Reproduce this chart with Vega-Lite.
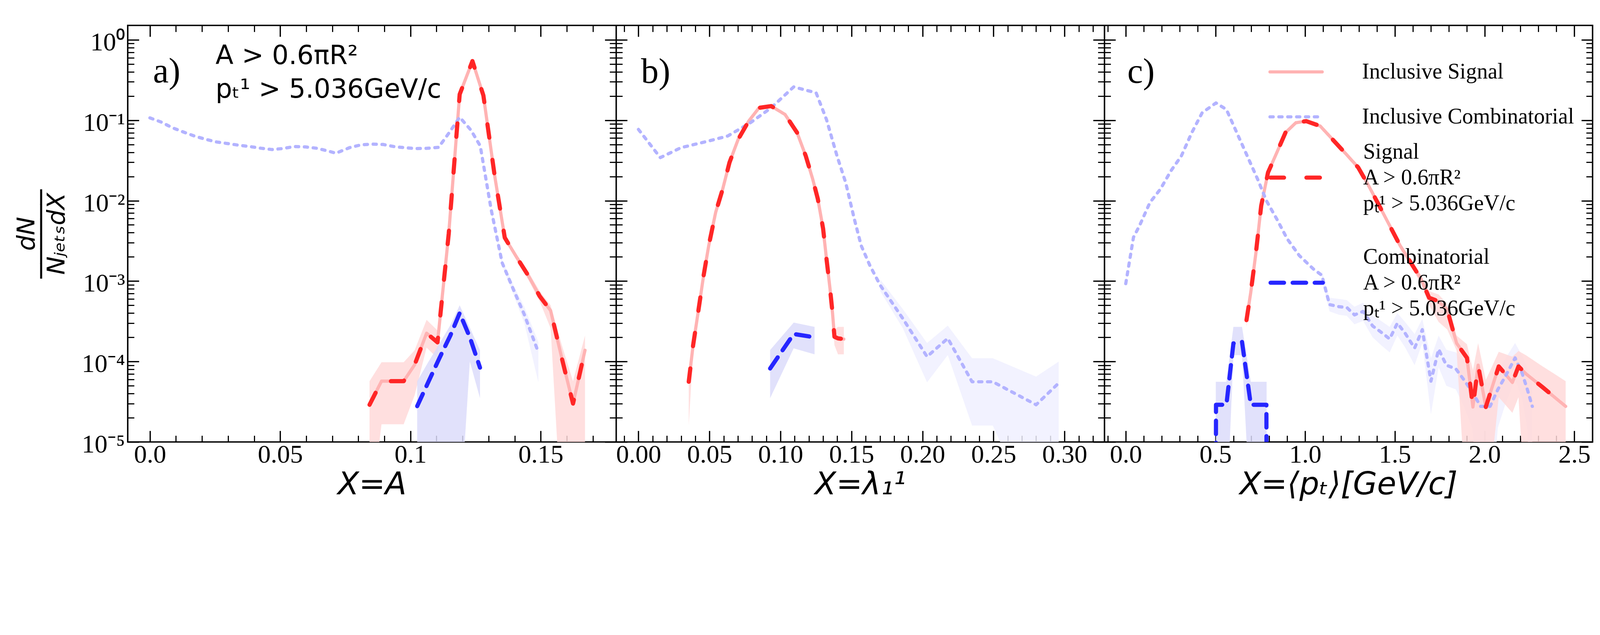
{
  "$schema": "https://vega.github.io/schema/vega-lite/v6.json",
  "width": 3750,
  "height": 1066,
  "autosize": {"type": "none"},
  "padding": {"left": 327, "top": 65, "right": 21, "bottom": 201},
  "background": "white",
  "datasets": {
    "curves": [
      {"p":"a","s":"Inclusive Signal","x":0.0843,"y":2.9e-5},
      {"p":"a","s":"Inclusive Signal","x":0.0889,"y":5.7e-5},
      {"p":"a","s":"Inclusive Signal","x":0.0974,"y":5.7e-5},
      {"p":"a","s":"Inclusive Signal","x":0.1016,"y":9.1e-5},
      {"p":"a","s":"Inclusive Signal","x":0.1062,"y":2.25e-4},
      {"p":"a","s":"Inclusive Signal","x":0.1104,"y":1.73e-4},
      {"p":"a","s":"Inclusive Signal","x":0.1147,"y":3.9e-3},
      {"p":"a","s":"Inclusive Signal","x":0.1189,"y":0.21},
      {"p":"a","s":"Inclusive Signal","x":0.1238,"y":0.544},
      {"p":"a","s":"Inclusive Signal","x":0.128,"y":0.203},
      {"p":"a","s":"Inclusive Signal","x":0.1323,"y":0.0207},
      {"p":"a","s":"Inclusive Signal","x":0.1362,"y":3.47e-3},
      {"p":"a","s":"Inclusive Signal","x":0.1408,"y":1.97e-3},
      {"p":"a","s":"Inclusive Signal","x":0.1453,"y":1.16e-3},
      {"p":"a","s":"Inclusive Signal","x":0.1496,"y":6.5e-4},
      {"p":"a","s":"Inclusive Signal","x":0.1538,"y":4.3e-4},
      {"p":"a","s":"Inclusive Signal","x":0.1581,"y":1.1e-4},
      {"p":"a","s":"Inclusive Signal","x":0.1624,"y":3.0e-5},
      {"p":"a","s":"Inclusive Signal","x":0.167,"y":1.38e-4},

      {"p":"a","s":"Inclusive Combinatorial","x":0.0,"y":0.107},
      {"p":"a","s":"Inclusive Combinatorial","x":0.0043,"y":0.095},
      {"p":"a","s":"Inclusive Combinatorial","x":0.0085,"y":0.081},
      {"p":"a","s":"Inclusive Combinatorial","x":0.0128,"y":0.0715},
      {"p":"a","s":"Inclusive Combinatorial","x":0.017,"y":0.0638},
      {"p":"a","s":"Inclusive Combinatorial","x":0.0213,"y":0.058},
      {"p":"a","s":"Inclusive Combinatorial","x":0.0256,"y":0.0537},
      {"p":"a","s":"Inclusive Combinatorial","x":0.0298,"y":0.0513},
      {"p":"a","s":"Inclusive Combinatorial","x":0.0341,"y":0.0489},
      {"p":"a","s":"Inclusive Combinatorial","x":0.0383,"y":0.0471},
      {"p":"a","s":"Inclusive Combinatorial","x":0.0426,"y":0.0449},
      {"p":"a","s":"Inclusive Combinatorial","x":0.0469,"y":0.0432},
      {"p":"a","s":"Inclusive Combinatorial","x":0.0511,"y":0.0445},
      {"p":"a","s":"Inclusive Combinatorial","x":0.0554,"y":0.0471},
      {"p":"a","s":"Inclusive Combinatorial","x":0.0596,"y":0.0466},
      {"p":"a","s":"Inclusive Combinatorial","x":0.0639,"y":0.0449},
      {"p":"a","s":"Inclusive Combinatorial","x":0.0682,"y":0.0416},
      {"p":"a","s":"Inclusive Combinatorial","x":0.0714,"y":0.0389},
      {"p":"a","s":"Inclusive Combinatorial","x":0.0767,"y":0.0457},
      {"p":"a","s":"Inclusive Combinatorial","x":0.0809,"y":0.0493},
      {"p":"a","s":"Inclusive Combinatorial","x":0.0852,"y":0.0505},
      {"p":"a","s":"Inclusive Combinatorial","x":0.0895,"y":0.05},
      {"p":"a","s":"Inclusive Combinatorial","x":0.0937,"y":0.047},
      {"p":"a","s":"Inclusive Combinatorial","x":0.098,"y":0.0455},
      {"p":"a","s":"Inclusive Combinatorial","x":0.1022,"y":0.0444},
      {"p":"a","s":"Inclusive Combinatorial","x":0.1065,"y":0.0448},
      {"p":"a","s":"Inclusive Combinatorial","x":0.1108,"y":0.046},
      {"p":"a","s":"Inclusive Combinatorial","x":0.115,"y":0.071},
      {"p":"a","s":"Inclusive Combinatorial","x":0.1189,"y":0.109},
      {"p":"a","s":"Inclusive Combinatorial","x":0.1232,"y":0.0755},
      {"p":"a","s":"Inclusive Combinatorial","x":0.1268,"y":0.0479},
      {"p":"a","s":"Inclusive Combinatorial","x":0.131,"y":0.0077,"lo":0.0072,"hi":0.0082},
      {"p":"a","s":"Inclusive Combinatorial","x":0.1352,"y":0.00169,"lo":0.00155,"hi":0.00185},
      {"p":"a","s":"Inclusive Combinatorial","x":0.1395,"y":0.00079,"lo":0.00068,"hi":0.0009},
      {"p":"a","s":"Inclusive Combinatorial","x":0.1437,"y":0.000384,"lo":0.0003,"hi":0.00048},
      {"p":"a","s":"Inclusive Combinatorial","x":0.1491,"y":0.00013,"lo":0.000055,"hi":0.000175},

      {"p":"a","s":"Signal","x":0.0843,"y":2.9e-5,"lo":1e-6,"hi":5.7e-5},
      {"p":"a","s":"Signal","x":0.0889,"y":5.7e-5,"lo":1.66e-5,"hi":9.8e-5},
      {"p":"a","s":"Signal","x":0.0974,"y":5.7e-5,"lo":1.66e-5,"hi":9.8e-5},
      {"p":"a","s":"Signal","x":0.1016,"y":9.1e-5,"lo":3.8e-5,"hi":1.38e-4},
      {"p":"a","s":"Signal","x":0.1062,"y":2.25e-4,"lo":1.49e-4,"hi":3.3e-4},
      {"p":"a","s":"Signal","x":0.1104,"y":1.73e-4,"lo":1.1e-4,"hi":2.43e-4},
      {"p":"a","s":"Signal","x":0.1147,"y":3.9e-3,"lo":3.6e-3,"hi":4.2e-3},
      {"p":"a","s":"Signal","x":0.1189,"y":0.21,"lo":0.2,"hi":0.22},
      {"p":"a","s":"Signal","x":0.1238,"y":0.544,"lo":0.53,"hi":0.56},
      {"p":"a","s":"Signal","x":0.128,"y":0.203,"lo":0.195,"hi":0.21},
      {"p":"a","s":"Signal","x":0.1323,"y":0.0207,"lo":0.0195,"hi":0.022},
      {"p":"a","s":"Signal","x":0.1362,"y":3.47e-3,"lo":3.25e-3,"hi":3.7e-3},
      {"p":"a","s":"Signal","x":0.1408,"y":1.97e-3,"lo":1.8e-3,"hi":2.15e-3},
      {"p":"a","s":"Signal","x":0.1453,"y":1.16e-3,"lo":1.03e-3,"hi":1.3e-3},
      {"p":"a","s":"Signal","x":0.1496,"y":6.5e-4,"lo":5.6e-4,"hi":7.5e-4},
      {"p":"a","s":"Signal","x":0.1538,"y":4.3e-4,"lo":2.6e-4,"hi":5.0e-4},
      {"p":"a","s":"Signal","x":0.1581,"y":1.1e-4,"lo":1e-6,"hi":1.6e-4},
      {"p":"a","s":"Signal","x":0.1624,"y":3.0e-5,"lo":1e-6,"hi":5.7e-5},
      {"p":"a","s":"Signal","x":0.167,"y":1.38e-4,"lo":1e-6,"hi":2.1e-4},

      {"p":"a","s":"Combinatorial","x":0.1026,"y":2.79e-5,"lo":1e-6,"hi":5.7e-5},
      {"p":"a","s":"Combinatorial","x":0.1068,"y":5.5e-5,"lo":1e-6,"hi":9.8e-5},
      {"p":"a","s":"Combinatorial","x":0.1111,"y":1.1e-4,"lo":1e-6,"hi":1.66e-4},
      {"p":"a","s":"Combinatorial","x":0.1153,"y":2.1e-4,"lo":1e-6,"hi":2.83e-4},
      {"p":"a","s":"Combinatorial","x":0.1189,"y":4.0e-4,"lo":1e-6,"hi":5.0e-4},
      {"p":"a","s":"Combinatorial","x":0.1228,"y":2.0e-4,"lo":1.0e-4,"hi":2.63e-4},
      {"p":"a","s":"Combinatorial","x":0.1267,"y":8.4e-5,"lo":3.5e-5,"hi":1.38e-4},

      {"p":"b","s":"Inclusive Signal","x":0.0354,"y":5.6e-5},
      {"p":"b","s":"Inclusive Signal","x":0.0385,"y":1.6e-4},
      {"p":"b","s":"Inclusive Signal","x":0.0422,"y":4.3e-4},
      {"p":"b","s":"Inclusive Signal","x":0.0459,"y":1.18e-3},
      {"p":"b","s":"Inclusive Signal","x":0.0495,"y":2.77e-3},
      {"p":"b","s":"Inclusive Signal","x":0.0544,"y":7.2e-3},
      {"p":"b","s":"Inclusive Signal","x":0.0593,"y":0.0139},
      {"p":"b","s":"Inclusive Signal","x":0.0641,"y":0.0298},
      {"p":"b","s":"Inclusive Signal","x":0.0702,"y":0.0578},
      {"p":"b","s":"Inclusive Signal","x":0.0776,"y":0.0975},
      {"p":"b","s":"Inclusive Signal","x":0.0849,"y":0.1426},
      {"p":"b","s":"Inclusive Signal","x":0.0934,"y":0.15},
      {"p":"b","s":"Inclusive Signal","x":0.1032,"y":0.118},
      {"p":"b","s":"Inclusive Signal","x":0.1117,"y":0.07},
      {"p":"b","s":"Inclusive Signal","x":0.1178,"y":0.036},
      {"p":"b","s":"Inclusive Signal","x":0.1227,"y":0.0185},
      {"p":"b","s":"Inclusive Signal","x":0.1263,"y":0.0105},
      {"p":"b","s":"Inclusive Signal","x":0.13,"y":0.0045},
      {"p":"b","s":"Inclusive Signal","x":0.1324,"y":0.00189},
      {"p":"b","s":"Inclusive Signal","x":0.1349,"y":0.0008},
      {"p":"b","s":"Inclusive Signal","x":0.1366,"y":0.00041},
      {"p":"b","s":"Inclusive Signal","x":0.138,"y":0.000203},
      {"p":"b","s":"Inclusive Signal","x":0.1405,"y":0.000194},
      {"p":"b","s":"Inclusive Signal","x":0.1446,"y":0.00019},

      {"p":"b","s":"Inclusive Combinatorial","x":0.0,"y":0.0769},
      {"p":"b","s":"Inclusive Combinatorial","x":0.0154,"y":0.0343},
      {"p":"b","s":"Inclusive Combinatorial","x":0.03,"y":0.0456},
      {"p":"b","s":"Inclusive Combinatorial","x":0.0495,"y":0.0552},
      {"p":"b","s":"Inclusive Combinatorial","x":0.0629,"y":0.0637},
      {"p":"b","s":"Inclusive Combinatorial","x":0.0788,"y":0.0931},
      {"p":"b","s":"Inclusive Combinatorial","x":0.0934,"y":0.1426},
      {"p":"b","s":"Inclusive Combinatorial","x":0.1093,"y":0.2596},
      {"p":"b","s":"Inclusive Combinatorial","x":0.1251,"y":0.219},
      {"p":"b","s":"Inclusive Combinatorial","x":0.1324,"y":0.102},
      {"p":"b","s":"Inclusive Combinatorial","x":0.1398,"y":0.036},
      {"p":"b","s":"Inclusive Combinatorial","x":0.1459,"y":0.0168},
      {"p":"b","s":"Inclusive Combinatorial","x":0.152,"y":0.0059},
      {"p":"b","s":"Inclusive Combinatorial","x":0.1568,"y":0.00277},
      {"p":"b","s":"Inclusive Combinatorial","x":0.1629,"y":0.00157},
      {"p":"b","s":"Inclusive Combinatorial","x":0.1702,"y":0.00089,"lo":0.00075,"hi":0.00105},
      {"p":"b","s":"Inclusive Combinatorial","x":0.1861,"y":0.000343,"lo":0.00026,"hi":0.00045},
      {"p":"b","s":"Inclusive Combinatorial","x":0.2032,"y":0.000115,"lo":0.000055,"hi":0.00017},
      {"p":"b","s":"Inclusive Combinatorial","x":0.2178,"y":0.000194,"lo":0.00012,"hi":0.00028},
      {"p":"b","s":"Inclusive Combinatorial","x":0.2349,"y":0.000056,"lo":0.000016,"hi":0.00011},
      {"p":"b","s":"Inclusive Combinatorial","x":0.2495,"y":0.000056,"lo":0.000016,"hi":0.00011},
      {"p":"b","s":"Inclusive Combinatorial","x":0.28,"y":0.000029,"lo":1e-6,"hi":0.000065},
      {"p":"b","s":"Inclusive Combinatorial","x":0.2959,"y":0.000054,"lo":1e-6,"hi":0.0001},

      {"p":"b","s":"Signal","x":0.0354,"y":5.6e-5,"lo":1.6e-5,"hi":7.5e-5},
      {"p":"b","s":"Signal","x":0.0385,"y":1.6e-4,"lo":1.3e-4,"hi":1.9e-4},
      {"p":"b","s":"Signal","x":0.0422,"y":4.3e-4,"lo":3.9e-4,"hi":4.7e-4},
      {"p":"b","s":"Signal","x":0.0459,"y":1.18e-3,"lo":1.1e-3,"hi":1.26e-3},
      {"p":"b","s":"Signal","x":0.0495,"y":2.77e-3,"lo":2.6e-3,"hi":2.95e-3},
      {"p":"b","s":"Signal","x":0.0544,"y":7.2e-3,"lo":6.8e-3,"hi":7.6e-3},
      {"p":"b","s":"Signal","x":0.0593,"y":0.0139,"lo":0.0132,"hi":0.0146},
      {"p":"b","s":"Signal","x":0.0641,"y":0.0298,"lo":0.0285,"hi":0.031},
      {"p":"b","s":"Signal","x":0.0702,"y":0.0578,"lo":0.0555,"hi":0.06},
      {"p":"b","s":"Signal","x":0.0776,"y":0.0975,"lo":0.094,"hi":0.101},
      {"p":"b","s":"Signal","x":0.0849,"y":0.1426,"lo":0.138,"hi":0.147},
      {"p":"b","s":"Signal","x":0.0934,"y":0.15,"lo":0.145,"hi":0.155},
      {"p":"b","s":"Signal","x":0.1032,"y":0.118,"lo":0.114,"hi":0.122},
      {"p":"b","s":"Signal","x":0.1117,"y":0.07,"lo":0.067,"hi":0.073},
      {"p":"b","s":"Signal","x":0.1178,"y":0.036,"lo":0.0345,"hi":0.0375},
      {"p":"b","s":"Signal","x":0.1227,"y":0.0185,"lo":0.0176,"hi":0.0194},
      {"p":"b","s":"Signal","x":0.1263,"y":0.0105,"lo":0.01,"hi":0.011},
      {"p":"b","s":"Signal","x":0.13,"y":0.0045,"lo":0.0043,"hi":0.0047},
      {"p":"b","s":"Signal","x":0.1324,"y":0.00189,"lo":0.0018,"hi":0.002},
      {"p":"b","s":"Signal","x":0.1349,"y":0.0008,"lo":0.00075,"hi":0.00085},
      {"p":"b","s":"Signal","x":0.1366,"y":0.00041,"lo":0.00037,"hi":0.00045},
      {"p":"b","s":"Signal","x":0.138,"y":0.000203,"lo":0.00016,"hi":0.00025},
      {"p":"b","s":"Signal","x":0.1405,"y":0.000194,"lo":0.000123,"hi":0.00027},
      {"p":"b","s":"Signal","x":0.1446,"y":0.00019,"lo":0.000123,"hi":0.00027},

      {"p":"b","s":"Combinatorial","x":0.0927,"y":8.2e-5,"lo":3.5e-5,"hi":1.39e-4},
      {"p":"b","s":"Combinatorial","x":0.1093,"y":2.2e-4,"lo":1.46e-4,"hi":3.05e-4},
      {"p":"b","s":"Combinatorial","x":0.124,"y":2.0e-4,"lo":1.23e-4,"hi":2.7e-4},

      {"p":"c","s":"Inclusive Signal","x":0.673,"y":3.27e-4},
      {"p":"c","s":"Inclusive Signal","x":0.697,"y":7.3e-4},
      {"p":"c","s":"Inclusive Signal","x":0.726,"y":2.29e-3},
      {"p":"c","s":"Inclusive Signal","x":0.755,"y":8.65e-3},
      {"p":"c","s":"Inclusive Signal","x":0.793,"y":0.0224},
      {"p":"c","s":"Inclusive Signal","x":0.842,"y":0.0396},
      {"p":"c","s":"Inclusive Signal","x":0.89,"y":0.07},
      {"p":"c","s":"Inclusive Signal","x":0.948,"y":0.093},
      {"p":"c","s":"Inclusive Signal","x":1.006,"y":0.0975},
      {"p":"c","s":"Inclusive Signal","x":1.084,"y":0.0846},
      {"p":"c","s":"Inclusive Signal","x":1.161,"y":0.0552},
      {"p":"c","s":"Inclusive Signal","x":1.229,"y":0.0378},
      {"p":"c","s":"Inclusive Signal","x":1.296,"y":0.0258},
      {"p":"c","s":"Inclusive Signal","x":1.354,"y":0.0153},
      {"p":"c","s":"Inclusive Signal","x":1.413,"y":8.65e-3},
      {"p":"c","s":"Inclusive Signal","x":1.471,"y":4.9e-3},
      {"p":"c","s":"Inclusive Signal","x":1.529,"y":2.77e-3},
      {"p":"c","s":"Inclusive Signal","x":1.587,"y":1.72e-3},
      {"p":"c","s":"Inclusive Signal","x":1.645,"y":1.07e-3},
      {"p":"c","s":"Inclusive Signal","x":1.691,"y":6.2e-4},
      {"p":"c","s":"Inclusive Signal","x":1.744,"y":5.6e-4},
      {"p":"c","s":"Inclusive Signal","x":1.792,"y":4.4e-4},
      {"p":"c","s":"Inclusive Signal","x":1.844,"y":1.69e-4},
      {"p":"c","s":"Inclusive Signal","x":1.902,"y":1.11e-4},
      {"p":"c","s":"Inclusive Signal","x":1.935,"y":2.72e-5},
      {"p":"c","s":"Inclusive Signal","x":1.964,"y":9.0e-5},
      {"p":"c","s":"Inclusive Signal","x":2.007,"y":2.72e-5},
      {"p":"c","s":"Inclusive Signal","x":2.079,"y":8.7e-5},
      {"p":"c","s":"Inclusive Signal","x":2.155,"y":5.5e-5},
      {"p":"c","s":"Inclusive Signal","x":2.189,"y":8.7e-5},
      {"p":"c","s":"Inclusive Signal","x":2.232,"y":7.0e-5},
      {"p":"c","s":"Inclusive Signal","x":2.323,"y":4.8e-5},
      {"p":"c","s":"Inclusive Signal","x":2.39,"y":3.6e-5},
      {"p":"c","s":"Inclusive Signal","x":2.452,"y":2.77e-5},

      {"p":"c","s":"Inclusive Combinatorial","x":0.0,"y":0.00093},
      {"p":"c","s":"Inclusive Combinatorial","x":0.043,"y":0.0035},
      {"p":"c","s":"Inclusive Combinatorial","x":0.077,"y":0.0049},
      {"p":"c","s":"Inclusive Combinatorial","x":0.135,"y":0.0095},
      {"p":"c","s":"Inclusive Combinatorial","x":0.193,"y":0.0139},
      {"p":"c","s":"Inclusive Combinatorial","x":0.252,"y":0.0235},
      {"p":"c","s":"Inclusive Combinatorial","x":0.31,"y":0.036},
      {"p":"c","s":"Inclusive Combinatorial","x":0.368,"y":0.07},
      {"p":"c","s":"Inclusive Combinatorial","x":0.426,"y":0.124},
      {"p":"c","s":"Inclusive Combinatorial","x":0.503,"y":0.164},
      {"p":"c","s":"Inclusive Combinatorial","x":0.561,"y":0.136},
      {"p":"c","s":"Inclusive Combinatorial","x":0.619,"y":0.07},
      {"p":"c","s":"Inclusive Combinatorial","x":0.677,"y":0.036},
      {"p":"c","s":"Inclusive Combinatorial","x":0.735,"y":0.0185},
      {"p":"c","s":"Inclusive Combinatorial","x":0.784,"y":0.00998},
      {"p":"c","s":"Inclusive Combinatorial","x":0.842,"y":0.0059},
      {"p":"c","s":"Inclusive Combinatorial","x":0.9,"y":0.00335},
      {"p":"c","s":"Inclusive Combinatorial","x":0.967,"y":0.00208},
      {"p":"c","s":"Inclusive Combinatorial","x":1.045,"y":0.00142},
      {"p":"c","s":"Inclusive Combinatorial","x":1.093,"y":0.00118,"lo":0.001,"hi":0.00135},
      {"p":"c","s":"Inclusive Combinatorial","x":1.136,"y":0.00051,"lo":0.00042,"hi":0.00062},
      {"p":"c","s":"Inclusive Combinatorial","x":1.19,"y":0.00048,"lo":0.00038,"hi":0.0006},
      {"p":"c","s":"Inclusive Combinatorial","x":1.232,"y":0.00047,"lo":0.00037,"hi":0.00058},
      {"p":"c","s":"Inclusive Combinatorial","x":1.275,"y":0.00038,"lo":0.00029,"hi":0.00048},
      {"p":"c","s":"Inclusive Combinatorial","x":1.323,"y":0.00042,"lo":0.00032,"hi":0.00054},
      {"p":"c","s":"Inclusive Combinatorial","x":1.376,"y":0.000277,"lo":0.0002,"hi":0.00037},
      {"p":"c","s":"Inclusive Combinatorial","x":1.423,"y":0.000232,"lo":0.00016,"hi":0.00032},
      {"p":"c","s":"Inclusive Combinatorial","x":1.471,"y":0.000191,"lo":0.00013,"hi":0.00027},
      {"p":"c","s":"Inclusive Combinatorial","x":1.514,"y":0.0003,"lo":0.00021,"hi":0.0004},
      {"p":"c","s":"Inclusive Combinatorial","x":1.557,"y":0.000225,"lo":0.00015,"hi":0.00031},
      {"p":"c","s":"Inclusive Combinatorial","x":1.61,"y":0.000147,"lo":0.00009,"hi":0.00022},
      {"p":"c","s":"Inclusive Combinatorial","x":1.653,"y":0.000249,"lo":0.00017,"hi":0.00034},
      {"p":"c","s":"Inclusive Combinatorial","x":1.701,"y":0.000057,"lo":0.000022,"hi":0.00011},
      {"p":"c","s":"Inclusive Combinatorial","x":1.744,"y":0.000142,"lo":0.000085,"hi":0.00021},
      {"p":"c","s":"Inclusive Combinatorial","x":1.787,"y":0.00009,"lo":0.00005,"hi":0.00014},
      {"p":"c","s":"Inclusive Combinatorial","x":1.84,"y":0.000081,"lo":0.000045,"hi":0.00013},
      {"p":"c","s":"Inclusive Combinatorial","x":1.883,"y":0.00006,"lo":0.000028,"hi":0.0001},
      {"p":"c","s":"Inclusive Combinatorial","x":1.931,"y":0.000042,"lo":0.000015,"hi":0.000075},
      {"p":"c","s":"Inclusive Combinatorial","x":1.978,"y":0.0000277,"lo":1e-6,"hi":0.000055},
      {"p":"c","s":"Inclusive Combinatorial","x":2.031,"y":0.0000277,"lo":1e-6,"hi":0.000055},
      {"p":"c","s":"Inclusive Combinatorial","x":2.074,"y":0.000045,"lo":0.000015,"hi":0.00008},
      {"p":"c","s":"Inclusive Combinatorial","x":2.117,"y":0.000066,"lo":0.00003,"hi":0.00011},
      {"p":"c","s":"Inclusive Combinatorial","x":2.17,"y":0.000111,"lo":0.00006,"hi":0.00017},
      {"p":"c","s":"Inclusive Combinatorial","x":2.208,"y":0.000073,"lo":0.000035,"hi":0.00012},
      {"p":"c","s":"Inclusive Combinatorial","x":2.237,"y":0.000046,"lo":0.000015,"hi":0.000085},
      {"p":"c","s":"Inclusive Combinatorial","x":2.266,"y":0.0000277,"lo":1e-6,"hi":0.000055},

      {"p":"c","s":"Signal","x":0.673,"y":3.27e-4,"lo":2.7e-4,"hi":3.9e-4},
      {"p":"c","s":"Signal","x":0.697,"y":7.3e-4,"lo":6.6e-4,"hi":8e-4},
      {"p":"c","s":"Signal","x":0.726,"y":2.29e-3,"lo":2.15e-3,"hi":2.45e-3},
      {"p":"c","s":"Signal","x":0.755,"y":8.65e-3,"lo":8.2e-3,"hi":9.1e-3},
      {"p":"c","s":"Signal","x":0.793,"y":0.0224,"lo":0.0214,"hi":0.0234},
      {"p":"c","s":"Signal","x":0.842,"y":0.0396,"lo":0.038,"hi":0.0412},
      {"p":"c","s":"Signal","x":0.89,"y":0.07,"lo":0.067,"hi":0.073},
      {"p":"c","s":"Signal","x":0.948,"y":0.093,"lo":0.09,"hi":0.096},
      {"p":"c","s":"Signal","x":1.006,"y":0.0975,"lo":0.094,"hi":0.101},
      {"p":"c","s":"Signal","x":1.084,"y":0.0846,"lo":0.082,"hi":0.087},
      {"p":"c","s":"Signal","x":1.161,"y":0.0552,"lo":0.053,"hi":0.0575},
      {"p":"c","s":"Signal","x":1.229,"y":0.0378,"lo":0.0362,"hi":0.0394},
      {"p":"c","s":"Signal","x":1.296,"y":0.0258,"lo":0.0246,"hi":0.027},
      {"p":"c","s":"Signal","x":1.354,"y":0.0153,"lo":0.0145,"hi":0.0161},
      {"p":"c","s":"Signal","x":1.413,"y":8.65e-3,"lo":8.1e-3,"hi":9.2e-3},
      {"p":"c","s":"Signal","x":1.471,"y":4.9e-3,"lo":4.55e-3,"hi":5.25e-3},
      {"p":"c","s":"Signal","x":1.529,"y":2.77e-3,"lo":2.55e-3,"hi":3.0e-3},
      {"p":"c","s":"Signal","x":1.587,"y":1.72e-3,"lo":1.55e-3,"hi":1.9e-3},
      {"p":"c","s":"Signal","x":1.645,"y":1.07e-3,"lo":9.4e-4,"hi":1.2e-3},
      {"p":"c","s":"Signal","x":1.691,"y":6.2e-4,"lo":5.0e-4,"hi":7.5e-4},
      {"p":"c","s":"Signal","x":1.744,"y":5.6e-4,"lo":3.1e-4,"hi":6.8e-4},
      {"p":"c","s":"Signal","x":1.792,"y":4.4e-4,"lo":2.5e-4,"hi":5.2e-4},
      {"p":"c","s":"Signal","x":1.844,"y":1.69e-4,"lo":1.37e-4,"hi":2.1e-4},
      {"p":"c","s":"Signal","x":1.902,"y":1.11e-4,"lo":1e-6,"hi":1.64e-4},
      {"p":"c","s":"Signal","x":1.935,"y":2.72e-5,"lo":1e-6,"hi":7.8e-5},
      {"p":"c","s":"Signal","x":1.964,"y":9.0e-5,"lo":1e-6,"hi":1.69e-4},
      {"p":"c","s":"Signal","x":2.007,"y":2.72e-5,"lo":1e-6,"hi":5.9e-5},
      {"p":"c","s":"Signal","x":2.079,"y":8.7e-5,"lo":3.6e-5,"hi":1.32e-4},
      {"p":"c","s":"Signal","x":2.155,"y":5.5e-5,"lo":2.3e-5,"hi":1.15e-4},
      {"p":"c","s":"Signal","x":2.189,"y":8.7e-5,"lo":3.6e-5,"hi":1.35e-4},
      {"p":"c","s":"Signal","x":2.232,"y":7.0e-5,"lo":1e-6,"hi":1.19e-4},
      {"p":"c","s":"Signal","x":2.323,"y":4.8e-5,"lo":1e-6,"hi":8.7e-5},
      {"p":"c","s":"Signal","x":2.39,"y":3.6e-5,"lo":1e-6,"hi":7.0e-5},
      {"p":"c","s":"Signal","x":2.452,"y":2.77e-5,"lo":1e-6,"hi":5.7e-5},

      {"p":"c","s":"Combinatorial","x":0.502,"y":1e-6,"lo":1e-6,"hi":5.6e-5},
      {"p":"c","s":"Combinatorial","x":0.503,"y":2.9e-5,"lo":1e-6,"hi":5.6e-5},
      {"p":"c","s":"Combinatorial","x":0.561,"y":2.9e-5,"lo":1e-6,"hi":5.6e-5},
      {"p":"c","s":"Combinatorial","x":0.6,"y":1.68e-4,"lo":1.2e-4,"hi":2.7e-4},
      {"p":"c","s":"Combinatorial","x":0.648,"y":1.76e-4,"lo":1.2e-4,"hi":2.7e-4},
      {"p":"c","s":"Combinatorial","x":0.697,"y":2.9e-5,"lo":1e-6,"hi":5.6e-5},
      {"p":"c","s":"Combinatorial","x":0.784,"y":2.9e-5,"lo":1e-6,"hi":5.6e-5},
      {"p":"c","s":"Combinatorial","x":0.785,"y":1e-6,"lo":1e-6,"hi":5.6e-5}
    ]
  },
  "layer": [
    {
      "resolve": {"scale": {"stroke": "independent", "strokeDash": "independent"}, "axis": {"x": "independent", "y": "independent"}},
      "layer": [
        {
          "data": {"name": "curves"},
          "transform": [{"filter": "datum.p == 'a' && datum.hi != null"}],
          "mark": {"type": "area", "clip": true, "opacity": 0.85},
          "encoding": {
            "x": {"field": "x", "type": "quantitative",
              "scale": {"domain": [-0.0085, 0.1789], "range": [0, 1250], "nice": false, "zero": false},
              "axis": {"orient": "bottom", "values": [0, 0.05, 0.1, 0.15], "labelExpr": "['0.0','0.05','0.1','0.15'][round(datum.value/0.05)]",
                "tickSize": -28.7, "tickWidth": 3.3, "labelPadding": 29,
                "title": "X=A", "titleFontSize": 80, "titleFontStyle": "italic", "titlePadding": 5}},
            "y": {"field": "hi", "type": "quantitative",
              "scale": {"type": "log", "domain": [0.00001, 1.51], "nice": false},
              "axis": {"orient": "left", "values": [0.00001, 0.0001, 0.001, 0.01, 0.1, 1],
                "labelExpr": "['10⁰','10⁻¹','10⁻²','10⁻³','10⁻⁴','10⁻⁵'][round(-log(datum.value)/LN10)]",
                "tickSize": -28.7, "tickWidth": 3.3, "labelPadding": 36, "labelOffset": 6.5,
                "title": ["dN", "──────", "NⱼₑₜₛdX"], "titleFontSize": 63, "titleLineHeight": 38.6, "titleFontStyle": "italic", "titlePadding": 30.7}},
            "y2": {"field": "lo"},
            "fill": {"field": "s", "type": "nominal",
              "scale": {"domain": ["Inclusive Combinatorial", "Combinatorial", "Signal"], "range": ["#f0f0ff", "#dcdcfa", "#ffd9d9"]},
              "legend": null}
          }
        },
        {
          "data": {"name": "curves"},
          "transform": [{"filter": "datum.p == 'a' && (datum.s == 'Inclusive Signal' || datum.s == 'Inclusive Combinatorial')"}],
          "mark": {"type": "line", "clip": true, "strokeWidth": 8.2, "strokeCap": "round", "strokeJoin": "round"},
          "encoding": {
            "x": {"field": "x", "type": "quantitative",
              "axis": {"orient": "bottom", "values": [0.01, 0.02, 0.03, 0.04, 0.06, 0.07, 0.08, 0.09, 0.11, 0.12, 0.13, 0.14, 0.16, 0.17],
                "tickSize": -16.4, "tickWidth": 2.9, "labels": false, "title": null}},
            "y": {"field": "y", "type": "quantitative",
              "axis": {"orient": "left", "values": [0.00002,0.00003,0.00004,0.00005,0.00006,0.00007,0.00008,0.00009,0.0002,0.0003,0.0004,0.0005,0.0006,0.0007,0.0008,0.0009,0.002,0.003,0.004,0.005,0.006,0.007,0.008,0.009,0.02,0.03,0.04,0.05,0.06,0.07,0.08,0.09,0.2,0.3,0.4,0.5,0.6,0.7,0.8,0.9],
                "tickSize": -16.4, "tickWidth": 2.9, "labels": false, "title": null}},
            "stroke": {"field": "s", "type": "nominal",
              "scale": {"domain": ["Inclusive Signal", "Inclusive Combinatorial"], "range": ["#ffb3b3", "#b3b3ff"]}, "legend": null},
            "strokeDash": {"field": "s", "type": "nominal",
              "scale": {"domain": ["Inclusive Signal", "Inclusive Combinatorial"], "range": [[1, 0], [8.2, 14.5]]}, "legend": null}
          }
        },
        {
          "data": {"name": "curves"},
          "transform": [{"filter": "datum.p == 'a' && (datum.s == 'Signal' || datum.s == 'Combinatorial')"}],
          "mark": {"type": "line", "clip": true, "strokeWidth": 10.7, "strokeCap": "round", "strokeJoin": "round"},
          "encoding": {
            "x": {"field": "x", "type": "quantitative",
              "axis": {"orient": "top", "values": [0, 0.05, 0.1, 0.15], "tickSize": -28.7, "tickWidth": 3.3, "labels": false, "title": null}},
            "y": {"field": "y", "type": "quantitative",
              "axis": {"orient": "left", "offset": -1250, "values": [0.00001, 0.0001, 0.001, 0.01, 0.1, 1], "tickSize": 28.7, "tickWidth": 3.3, "labels": false, "title": null}},
            "stroke": {"field": "s", "type": "nominal",
              "scale": {"domain": ["Signal", "Combinatorial"], "range": ["#ff2626", "#2626ff"]}, "legend": null},
            "strokeDash": {"field": "s", "type": "nominal",
              "scale": {"domain": ["Signal", "Combinatorial"], "range": [[34.4, 57.4], [34.4, 22.1]]}, "legend": null}
          }
        },
        {
          "data": {"values": [{}]},
          "mark": {"type": "text", "text": "a)", "font": "Liberation Serif", "fontSize": 90, "align": "left", "baseline": "alphabetic", "color": "#000"},
          "encoding": {
            "x": {"datum": 0.0012, "type": "quantitative",
              "axis": {"orient": "top", "values": [0.01, 0.02, 0.03, 0.04, 0.06, 0.07, 0.08, 0.09, 0.11, 0.12, 0.13, 0.14, 0.16, 0.17],
                "tickSize": -16.4, "tickWidth": 2.9, "labels": false, "title": null}},
            "y": {"datum": 0.296, "type": "quantitative",
              "axis": {"orient": "left", "offset": -1250, "values": [0.00002,0.00003,0.00004,0.00005,0.00006,0.00007,0.00008,0.00009,0.0002,0.0003,0.0004,0.0005,0.0006,0.0007,0.0008,0.0009,0.002,0.003,0.004,0.005,0.006,0.007,0.008,0.009,0.02,0.03,0.04,0.05,0.06,0.07,0.08,0.09,0.2,0.3,0.4,0.5,0.6,0.7,0.8,0.9],
                "tickSize": 16.4, "tickWidth": 2.9, "labels": false, "title": null}}
          }
        },
        {
          "data": {"values": [{}]},
          "mark": {"type": "text", "text": ["A > 0.6πR²", "pₜ¹ > 5.036GeV/c"], "font": "DejaVu Sans", "fontSize": 67, "lineHeight": 86, "align": "left", "baseline": "alphabetic", "color": "#000"},
          "encoding": {
            "x": {"datum": 0.0252, "type": "quantitative", "axis": null},
            "y": {"datum": 0.499, "type": "quantitative", "axis": null}
          }
        }
      ]
    },
    {
      "resolve": {"scale": {"stroke": "independent", "strokeDash": "independent"}, "axis": {"x": "independent", "y": "independent"}},
      "layer": [
        {
          "data": {"name": "curves"},
          "transform": [{"filter": "datum.p == 'b' && datum.hi != null"}],
          "mark": {"type": "area", "clip": true, "opacity": 0.85},
          "encoding": {
            "x": {"field": "x", "type": "quantitative",
              "scale": {"domain": [-0.0158, 0.328], "range": [1250, 2500], "nice": false, "zero": false},
              "axis": {"orient": "bottom", "values": [0, 0.05, 0.1, 0.15, 0.2, 0.25, 0.3], "format": ".2f",
                "tickSize": -28.7, "tickWidth": 3.3, "labelPadding": 29,
                "title": "X=λ₁¹", "titleFontSize": 80, "titleFontStyle": "italic", "titlePadding": 5}},
            "y": {"field": "hi", "type": "quantitative",
              "axis": {"orient": "left", "offset": -1250, "values": [0.00001, 0.0001, 0.001, 0.01, 0.1, 1],
                "tickSize": -28.7, "tickWidth": 3.3, "labels": false, "title": null,
                "domain": true, "domainColor": "#000", "domainWidth": 3.7}},
            "y2": {"field": "lo"},
            "fill": {"field": "s", "type": "nominal",
              "scale": {"domain": ["Inclusive Combinatorial", "Combinatorial", "Signal"], "range": ["#f0f0ff", "#dcdcfa", "#ffd9d9"]},
              "legend": null}
          }
        },
        {
          "data": {"name": "curves"},
          "transform": [{"filter": "datum.p == 'b' && (datum.s == 'Inclusive Signal' || datum.s == 'Inclusive Combinatorial')"}],
          "mark": {"type": "line", "clip": true, "strokeWidth": 8.2, "strokeCap": "round", "strokeJoin": "round"},
          "encoding": {
            "x": {"field": "x", "type": "quantitative",
              "axis": {"orient": "bottom", "values": [-0.01, 0.01, 0.02, 0.03, 0.04, 0.06, 0.07, 0.08, 0.09, 0.11, 0.12, 0.13, 0.14, 0.16, 0.17, 0.18, 0.19, 0.21, 0.22, 0.23, 0.24, 0.26, 0.27, 0.28, 0.29, 0.31, 0.32],
                "tickSize": -16.4, "tickWidth": 2.9, "labels": false, "title": null}},
            "y": {"field": "y", "type": "quantitative",
              "axis": {"orient": "left", "offset": -1250, "values": [0.00002,0.00003,0.00004,0.00005,0.00006,0.00007,0.00008,0.00009,0.0002,0.0003,0.0004,0.0005,0.0006,0.0007,0.0008,0.0009,0.002,0.003,0.004,0.005,0.006,0.007,0.008,0.009,0.02,0.03,0.04,0.05,0.06,0.07,0.08,0.09,0.2,0.3,0.4,0.5,0.6,0.7,0.8,0.9],
                "tickSize": -16.4, "tickWidth": 2.9, "labels": false, "title": null}},
            "stroke": {"field": "s", "type": "nominal",
              "scale": {"domain": ["Inclusive Signal", "Inclusive Combinatorial"], "range": ["#ffb3b3", "#b3b3ff"]}, "legend": null},
            "strokeDash": {"field": "s", "type": "nominal",
              "scale": {"domain": ["Inclusive Signal", "Inclusive Combinatorial"], "range": [[1, 0], [8.2, 14.5]]}, "legend": null}
          }
        },
        {
          "data": {"name": "curves"},
          "transform": [{"filter": "datum.p == 'b' && (datum.s == 'Signal' || datum.s == 'Combinatorial')"}],
          "mark": {"type": "line", "clip": true, "strokeWidth": 10.7, "strokeCap": "round", "strokeJoin": "round"},
          "encoding": {
            "x": {"field": "x", "type": "quantitative",
              "axis": {"orient": "top", "values": [0, 0.05, 0.1, 0.15, 0.2, 0.25, 0.3], "tickSize": -28.7, "tickWidth": 3.3, "labels": false, "title": null}},
            "y": {"field": "y", "type": "quantitative",
              "axis": {"orient": "left", "offset": -2500, "values": [0.00001, 0.0001, 0.001, 0.01, 0.1, 1], "tickSize": 28.7, "tickWidth": 3.3, "labels": false, "title": null,
                "domain": true, "domainColor": "#000", "domainWidth": 3.7}},
            "stroke": {"field": "s", "type": "nominal",
              "scale": {"domain": ["Signal", "Combinatorial"], "range": ["#ff2626", "#2626ff"]}, "legend": null},
            "strokeDash": {"field": "s", "type": "nominal",
              "scale": {"domain": ["Signal", "Combinatorial"], "range": [[34.4, 57.4], [34.4, 22.1]]}, "legend": null}
          }
        },
        {
          "data": {"values": [{}]},
          "mark": {"type": "text", "text": "b)", "font": "Liberation Serif", "fontSize": 90, "align": "left", "baseline": "alphabetic", "color": "#000"},
          "encoding": {
            "x": {"datum": 0.0018, "type": "quantitative",
              "axis": {"orient": "top", "values": [-0.01, 0.01, 0.02, 0.03, 0.04, 0.06, 0.07, 0.08, 0.09, 0.11, 0.12, 0.13, 0.14, 0.16, 0.17, 0.18, 0.19, 0.21, 0.22, 0.23, 0.24, 0.26, 0.27, 0.28, 0.29, 0.31, 0.32],
                "tickSize": -16.4, "tickWidth": 2.9, "labels": false, "title": null}},
            "y": {"datum": 0.29, "type": "quantitative",
              "axis": {"orient": "left", "offset": -2500, "values": [0.00002,0.00003,0.00004,0.00005,0.00006,0.00007,0.00008,0.00009,0.0002,0.0003,0.0004,0.0005,0.0006,0.0007,0.0008,0.0009,0.002,0.003,0.004,0.005,0.006,0.007,0.008,0.009,0.02,0.03,0.04,0.05,0.06,0.07,0.08,0.09,0.2,0.3,0.4,0.5,0.6,0.7,0.8,0.9],
                "tickSize": 16.4, "tickWidth": 2.9, "labels": false, "title": null}}
          }
        }
      ]
    },
    {
      "resolve": {"scale": {"stroke": "independent", "strokeDash": "independent"}, "axis": {"x": "independent", "y": "independent"}},
      "layer": [
        {
          "data": {"name": "curves"},
          "transform": [{"filter": "datum.p == 'c' && datum.hi != null"}],
          "mark": {"type": "area", "clip": true, "opacity": 0.85},
          "encoding": {
            "x": {"field": "x", "type": "quantitative",
              "scale": {"domain": [-0.1196, 2.602], "range": [2500, 3750], "nice": false, "zero": false},
              "axis": {"orient": "bottom", "values": [0, 0.5, 1, 1.5, 2, 2.5], "format": ".1f",
                "tickSize": -28.7, "tickWidth": 3.3, "labelPadding": 29,
                "title": "X=⟨pₜ⟩[GeV/c]", "titleFontSize": 80, "titleFontStyle": "italic", "titlePadding": 5}},
            "y": {"field": "hi", "type": "quantitative",
              "axis": {"orient": "left", "offset": -2500, "values": [0.00001, 0.0001, 0.001, 0.01, 0.1, 1],
                "tickSize": -28.7, "tickWidth": 3.3, "labels": false, "title": null}},
            "y2": {"field": "lo"},
            "fill": {"field": "s", "type": "nominal",
              "scale": {"domain": ["Inclusive Combinatorial", "Combinatorial", "Signal"], "range": ["#f0f0ff", "#dcdcfa", "#ffd9d9"]},
              "legend": null}
          }
        },
        {
          "data": {"name": "curves"},
          "transform": [{"filter": "datum.p == 'c' && (datum.s == 'Inclusive Signal' || datum.s == 'Inclusive Combinatorial')"}],
          "mark": {"type": "line", "clip": true, "strokeWidth": 8.2, "strokeCap": "round", "strokeJoin": "round"},
          "encoding": {
            "x": {"field": "x", "type": "quantitative",
              "axis": {"orient": "bottom", "values": [-0.1, 0.1, 0.2, 0.3, 0.4, 0.6, 0.7, 0.8, 0.9, 1.1, 1.2, 1.3, 1.4, 1.6, 1.7, 1.8, 1.9, 2.1, 2.2, 2.3, 2.4],
                "tickSize": -16.4, "tickWidth": 2.9, "labels": false, "title": null}},
            "y": {"field": "y", "type": "quantitative",
              "axis": {"orient": "left", "offset": -2500, "values": [0.00002,0.00003,0.00004,0.00005,0.00006,0.00007,0.00008,0.00009,0.0002,0.0003,0.0004,0.0005,0.0006,0.0007,0.0008,0.0009,0.002,0.003,0.004,0.005,0.006,0.007,0.008,0.009,0.02,0.03,0.04,0.05,0.06,0.07,0.08,0.09,0.2,0.3,0.4,0.5,0.6,0.7,0.8,0.9],
                "tickSize": -16.4, "tickWidth": 2.9, "labels": false, "title": null}},
            "stroke": {"field": "s", "type": "nominal",
              "scale": {"domain": ["Inclusive Signal", "Inclusive Combinatorial"], "range": ["#ffb3b3", "#b3b3ff"]},
              "legend": {"orient": "none", "legendX": 2920, "legendY": 48, "title": null,
                "symbolType": "stroke", "symbolSize": 17850, "symbolStrokeWidth": 8.2,
                "labelFont": "Liberation Serif", "labelFontSize": 56, "labelColor": "#000", "labelOffset": 97.7, "labelLimit": 3000,
                "rowPadding": 16, "padding": 0,
                "encode": {"symbols": {"update": {"strokeCap": {"value": "round"}}}}}},
            "strokeDash": {"field": "s", "type": "nominal",
              "scale": {"domain": ["Inclusive Signal", "Inclusive Combinatorial"], "range": [[1, 0], [8.2, 14.5]]}}
          }
        },
        {
          "data": {"name": "curves"},
          "transform": [{"filter": "datum.p == 'c' && (datum.s == 'Signal' || datum.s == 'Combinatorial')"}],
          "mark": {"type": "line", "clip": true, "strokeWidth": 10.7, "strokeCap": "round", "strokeJoin": "round"},
          "encoding": {
            "x": {"field": "x", "type": "quantitative",
              "axis": {"orient": "top", "values": [0, 0.5, 1, 1.5, 2, 2.5], "tickSize": -28.7, "tickWidth": 3.3, "labels": false, "title": null}},
            "y": {"field": "y", "type": "quantitative",
              "axis": {"orient": "right", "values": [0.00001, 0.0001, 0.001, 0.01, 0.1, 1], "tickSize": -28.7, "tickWidth": 3.3, "labels": false, "title": null}},
            "stroke": {"field": "s", "type": "nominal",
              "scale": {"domain": ["Signal", "Combinatorial"], "range": ["#ff2626", "#2626ff"]},
              "legend": {"orient": "none", "legendX": 2920, "legendY": 317, "title": null,
                "symbolType": "stroke", "symbolSize": 17850, "symbolStrokeWidth": 10.7,
                "labelFont": "Liberation Serif", "labelFontSize": 56, "labelColor": "#000", "labelOffset": 97.7, "labelLimit": 3000,
                "rowPadding": 80, "padding": 0,
                "labelExpr": "[datum.label, 'A > 0.6πR²', 'pₜ¹ > 5.036GeV/c']",
                "encode": {
                  "symbols": {"update": {"strokeCap": {"value": "round"}}},
                  "labels": {"update": {"lineHeight": {"value": 66}, "dy": {"value": -66}}}}}},
            "strokeDash": {"field": "s", "type": "nominal",
              "scale": {"domain": ["Signal", "Combinatorial"], "range": [[34.4, 57.4], [34.4, 22.1]]}}
          }
        },
        {
          "data": {"values": [{}]},
          "mark": {"type": "text", "text": "c)", "font": "Liberation Serif", "fontSize": 90, "align": "left", "baseline": "alphabetic", "color": "#000"},
          "encoding": {
            "x": {"datum": 0.009, "type": "quantitative",
              "axis": {"orient": "top", "values": [-0.1, 0.1, 0.2, 0.3, 0.4, 0.6, 0.7, 0.8, 0.9, 1.1, 1.2, 1.3, 1.4, 1.6, 1.7, 1.8, 1.9, 2.1, 2.2, 2.3, 2.4],
                "tickSize": -16.4, "tickWidth": 2.9, "labels": false, "title": null}},
            "y": {"datum": 0.29, "type": "quantitative",
              "axis": {"orient": "right", "values": [0.00002,0.00003,0.00004,0.00005,0.00006,0.00007,0.00008,0.00009,0.0002,0.0003,0.0004,0.0005,0.0006,0.0007,0.0008,0.0009,0.002,0.003,0.004,0.005,0.006,0.007,0.008,0.009,0.02,0.03,0.04,0.05,0.06,0.07,0.08,0.09,0.2,0.3,0.4,0.5,0.6,0.7,0.8,0.9],
                "tickSize": -16.4, "tickWidth": 2.9, "labels": false, "title": null}}
          }
        }
      ]
    }
  ],
  "resolve": {"scale": {"x": "independent", "stroke": "independent", "strokeDash": "independent", "fill": "independent"}, "axis": {"x": "independent", "y": "independent"}},
  "config": {
    "view": {"stroke": "#000", "strokeWidth": 3.7},
    "axis": {"domain": false, "grid": false, "tickColor": "#000", "labelColor": "#000", "labelFont": "Liberation Serif", "labelFontSize": 66,
      "labelFlush": false, "labelOverlap": false, "labelBound": false, "titleColor": "#000", "titleFont": "DejaVu Sans", "titleFontWeight": "normal",
      "minExtent": 0, "maxExtent": 400, "zindex": 2}
  }
}
